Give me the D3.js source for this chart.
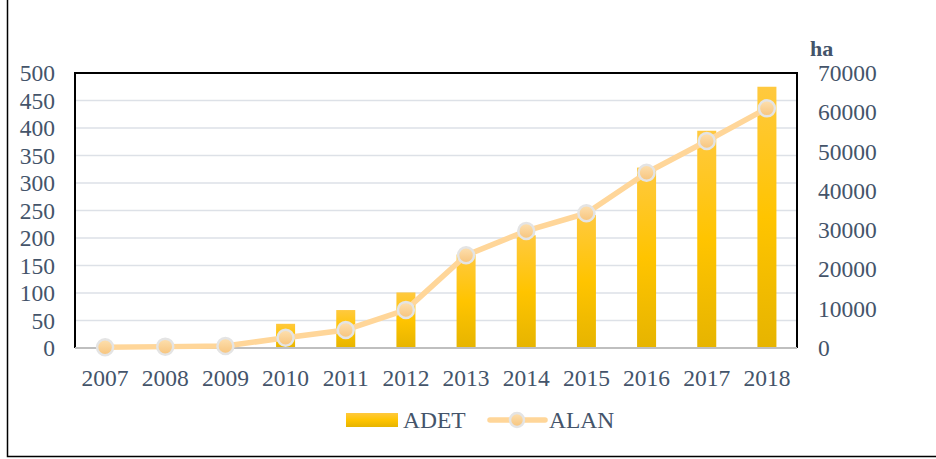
<!DOCTYPE html>
<html>
<head>
<meta charset="utf-8">
<script src="https://cdn.jsdelivr.net/npm/d3@7"></script>
<style>
  body { margin: 0; background: #fff; }
  text { font-family: "Liberation Serif", "Times New Roman", serif; fill: #44546a; }
</style>
</head>
<body>
<svg width="936" height="459"></svg>
<script>
var years = ["2007", "2008", "2009", "2010", "2011", "2012", "2013", "2014", "2015", "2016", "2017", "2018"];
var adet = [1, 2, 3, 44, 69, 101, 170, 205, 242, 328, 395, 475];
var alan = [200, 350, 500, 2600, 4600, 9700, 23600, 29800, 34300, 44600, 52700, 61000];
var leftTicks = [0, 50, 100, 150, 200, 250, 300, 350, 400, 450, 500];
var rightTicks = [0, 10000, 20000, 30000, 40000, 50000, 60000, 70000];

var svg = d3.select("svg"),
    margin = {top: 73, right: 139, bottom: 111, left: 75},
    width = +svg.attr("width") - margin.left - margin.right,
    height = +svg.attr("height") - margin.top - margin.bottom;

var defs = svg.append("defs");
var barGrad = defs.append("linearGradient").attr("id", "barGrad")
    .attr("x1", 0).attr("y1", 0).attr("x2", 0).attr("y2", 1);
barGrad.append("stop").attr("offset", "0%").attr("stop-color", "#ffc93f");
barGrad.append("stop").attr("offset", "50%").attr("stop-color", "#ffc400");
barGrad.append("stop").attr("offset", "100%").attr("stop-color", "#e6b400");

var dotGrad = defs.append("linearGradient").attr("id", "dotGrad")
    .attr("x1", 0).attr("y1", 0).attr("x2", 0).attr("y2", 1);
dotGrad.append("stop").attr("offset", "0%").attr("stop-color", "#fde0b0");
dotGrad.append("stop").attr("offset", "100%").attr("stop-color", "#f7c47c");

// outer frame (only left and bottom visible)
svg.append("path")
    .attr("d", "M7.5,0V456.5H936")
    .attr("fill", "none").attr("stroke", "#000").attr("stroke-width", 1.5);

var g = svg.append("g").attr("transform", "translate(" + margin.left + "," + margin.top + ")");

var x = d3.scaleBand().domain(years).range([0, width]);
var y = d3.scaleLinear().domain([0, 500]).range([height, 0]);
var y2 = d3.scaleLinear().domain([0, 70000]).range([height, 0]);

// gridlines
g.append("g").selectAll("line")
    .data(leftTicks.filter(function(d) { return d > 0 && d < 500; }))
    .enter().append("line")
      .attr("x1", 0).attr("x2", width)
      .attr("y1", function(d) { return y(d); }).attr("y2", function(d) { return y(d); })
      .attr("stroke", "#dde1e7").attr("stroke-width", 1.5);

// bars
var barW = 19;
g.append("g").selectAll("rect")
    .data(adet)
    .enter().append("rect")
      .attr("x", function(d, i) { return x(years[i]) + x.bandwidth() / 2 - barW / 2; })
      .attr("y", function(d) { return y(d); })
      .attr("width", barW)
      .attr("height", function(d) { return height - y(d); })
      .attr("fill", "url(#barGrad)");

// plot border
g.append("path")
    .attr("d", "M0," + height + "V0H" + width + "V" + height)
    .attr("fill", "none").attr("stroke", "#000").attr("stroke-width", 2);
g.append("line")
    .attr("x1", 0).attr("x2", width).attr("y1", height).attr("y2", height)
    .attr("stroke", "#bfbfbf").attr("stroke-width", 2);

// line
var line = d3.line()
    .x(function(d, i) { return x(years[i]) + x.bandwidth() / 2; })
    .y(function(d) { return y2(d); });
g.append("path")
    .datum(alan)
    .attr("d", line)
    .attr("fill", "none").attr("stroke", "#ffd699").attr("stroke-width", 5.5)
    .attr("stroke-linejoin", "round");
g.append("g").selectAll("circle")
    .data(alan)
    .enter().append("circle")
      .attr("cx", function(d, i) { return x(years[i]) + x.bandwidth() / 2; })
      .attr("cy", function(d) { return y2(d); })
      .attr("r", 8)
      .attr("fill", "url(#dotGrad)")
      .attr("stroke", "#e4e4e4").attr("stroke-width", 2.5);

// axes
var fs = "23.5px";
var leftAxis = g.append("g")
    .attr("transform", "translate(-20,0)")
    .call(d3.axisLeft(y).tickValues(leftTicks).tickSize(0).tickPadding(0));
leftAxis.select(".domain").remove();
leftAxis.selectAll("text").attr("font-size", fs).attr("font-family", null).attr("fill", null);

var rightAxis = g.append("g")
    .attr("transform", "translate(" + (width + 21) + ",0)")
    .call(d3.axisRight(y2).tickValues(rightTicks).tickFormat(d3.format("d")).tickSize(0).tickPadding(0));
rightAxis.select(".domain").remove();
rightAxis.selectAll("text").attr("font-size", fs).attr("font-family", null).attr("fill", null);

var bottomAxis = g.append("g")
    .attr("transform", "translate(0," + (height + 21) + ")")
    .call(d3.axisBottom(x).tickSize(0).tickPadding(0));
bottomAxis.select(".domain").remove();
bottomAxis.selectAll("text").attr("font-size", fs).attr("font-family", null).attr("fill", null);

svg.append("text")
    .attr("x", 810).attr("y", 56)
    .attr("font-size", "22px").attr("font-weight", "bold")
    .text("ha");

// legend
var legend = svg.append("g");
legend.append("rect")
    .attr("x", 346).attr("y", 413).attr("width", 52).attr("height", 14)
    .attr("fill", "url(#barGrad)");
legend.append("text").attr("x", 403).attr("y", 428).attr("font-size", fs).text("ADET");
legend.append("line")
    .attr("x1", 490).attr("x2", 545).attr("y1", 420).attr("y2", 420)
    .attr("stroke", "#ffd699").attr("stroke-width", 5.5).attr("stroke-linecap", "round");
legend.append("circle")
    .attr("cx", 517).attr("cy", 420).attr("r", 7)
    .attr("fill", "url(#dotGrad)").attr("stroke", "#e4e4e4").attr("stroke-width", 2.5);
legend.append("text").attr("x", 549).attr("y", 428).attr("font-size", fs).text("ALAN");
</script>
</body>
</html>
